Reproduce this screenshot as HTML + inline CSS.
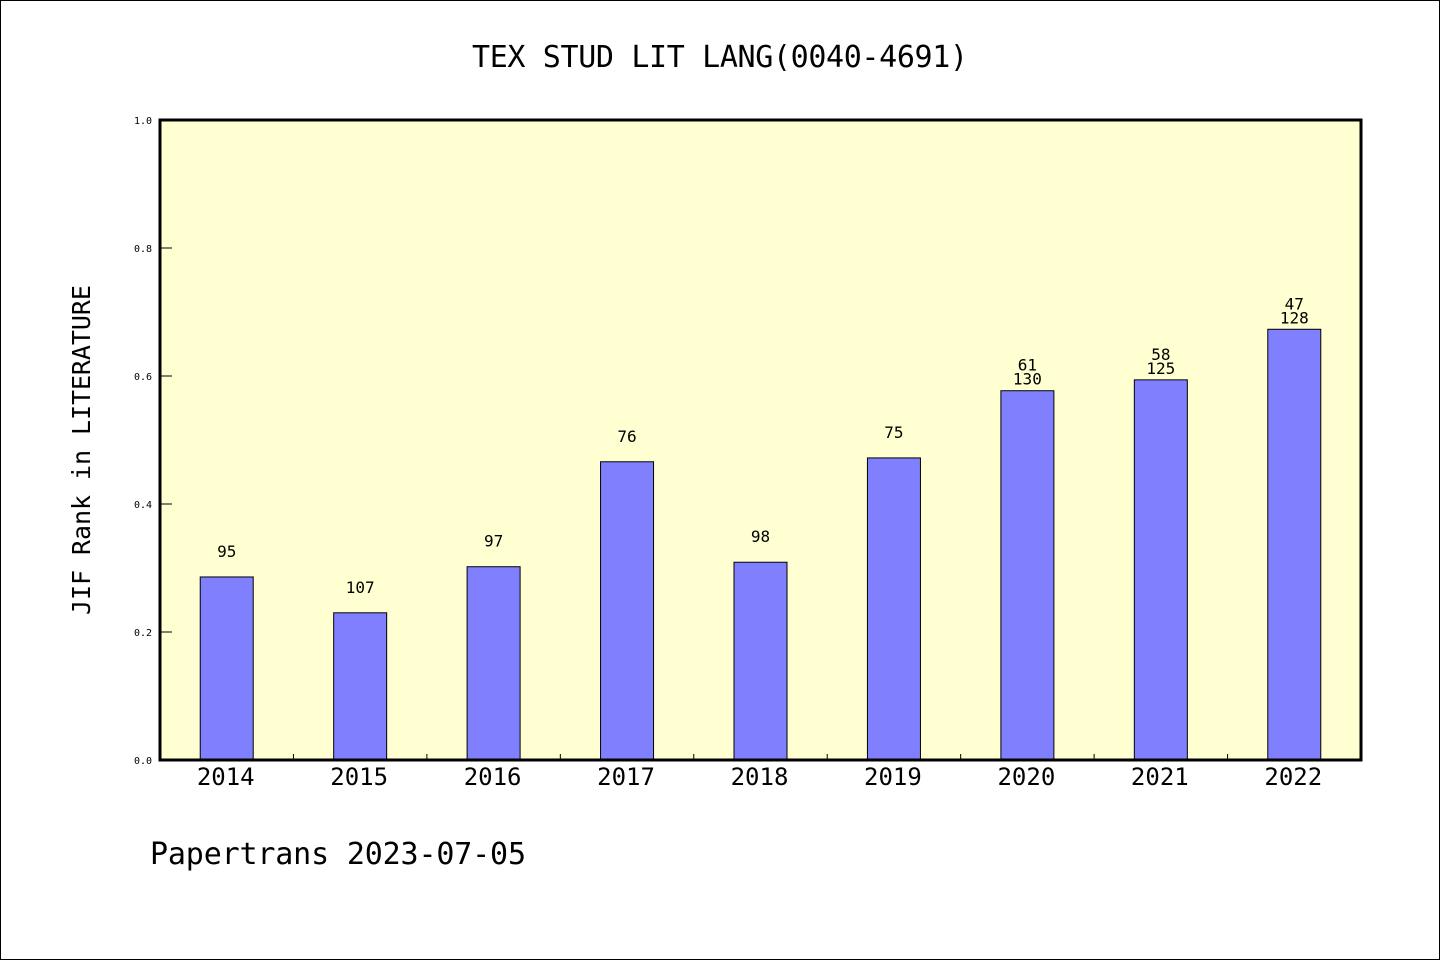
<!DOCTYPE html>
<html><head><meta charset="utf-8"><style>
body{margin:0;background:#fff}
svg{display:block;font-family:"DejaVu Sans Mono","Liberation Mono",monospace}
</style></head><body>
<svg id="c" width="1440" height="960" xmlns="http://www.w3.org/2000/svg">
<rect x="0.5" y="0.5" width="1439" height="959" fill="#fff" stroke="#000"/>
<text x="720" y="67" font-size="30" text-anchor="middle" textLength="496">TEX STUD LIT LANG(0040-4691)</text>
<rect x="160" y="120" width="1201" height="640" fill="#ffffd2"/>
<g id="bars"></g>
<rect x="160" y="120" width="1201" height="640" fill="none" stroke="#000" stroke-width="3"/>
<text transform="translate(90,450) rotate(-90)" font-size="25" text-anchor="middle" textLength="330">JIF Rank in LITERATURE</text>
<text x="150" y="864" font-size="30" textLength="376">Papertrans 2023-07-05</text>
</svg>
<script>
const years=["2014","2015","2016","2017","2018","2019","2020","2021","2022"];
const values=[0.286,0.230,0.302,0.466,0.309,0.472,0.577,0.594,0.673];
const labelTop=["","","","","","","61","58","47"];
const labelBottom=["95","107","97","76","98","75","130","125","128"];
const yTicks=[0,0.2,0.4,0.6,0.8,1.0];
const NS="http://www.w3.org/2000/svg";
const x0=160,x1=1361,yb=760,yt=120;
const cw=(x1-x0)/years.length;
const xs=i=>x0+cw*(i+0.5);
const ys=v=>yb-(yb-yt)*v;
const g=document.getElementById('bars');
function mk(t,a){const e=document.createElementNS(NS,t);for(const k in a)e.setAttribute(k,a[k]);g.appendChild(e);return e;}
yTicks.forEach(v=>{
  const l=mk('line',{x1:x0,x2:x0+12,y1:ys(v),y2:ys(v),stroke:'#000'});
  
  
  const t=mk('text',{x:152,y:ys(v)+4,'font-size':10,'text-anchor':'end'});
  t.textContent=v.toFixed(1);
  
  
});
years.forEach((y,i)=>{
  if(i>0){const l=mk('line',{x1:x0+cw*i,x2:x0+cw*i,y1:yb,y2:yb-6,stroke:'#000'});
  
  }
  const w=53,cx=xs(i),top=ys(values[i]);
  const r=mk('rect',{x:cx-w/2,y:top,width:w,height:yb-top,fill:'#8080ff',stroke:'#000','stroke-width':1});
  
  
  const t=mk('text',{x:cx-1,y:yb+25,'font-size':24,'text-anchor':'middle'});
  t.textContent=y;
  
  
  if(labelTop[i]){
    const a=mk('text',{x:cx,y:top-20,'font-size':16,'text-anchor':'middle'});a.textContent=labelTop[i];
    
    
    const b=mk('text',{x:cx,y:top-6,'font-size':16,'text-anchor':'middle'});b.textContent=labelBottom[i];
    
    
  } else {
    const b=mk('text',{x:cx,y:top-20,'font-size':16,'text-anchor':'middle'});b.textContent=labelBottom[i];
    
    
  }
});
</script>
</body></html>
